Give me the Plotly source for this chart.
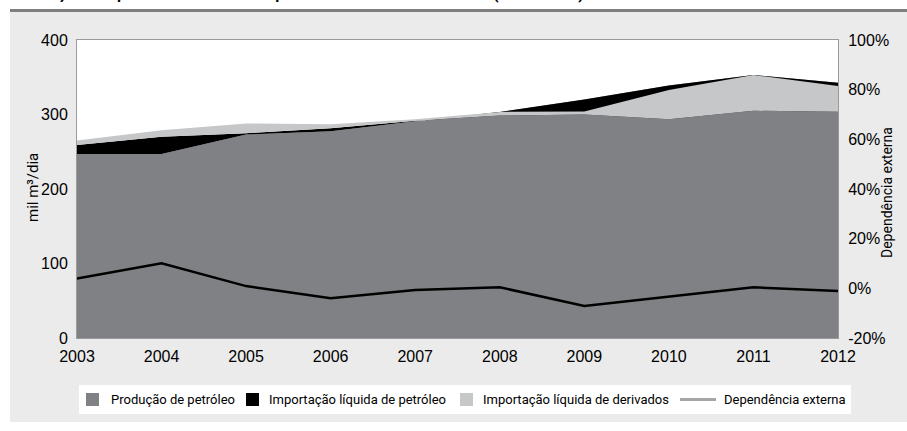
import plotly.graph_objects as go

anos = [2003, 2004, 2005, 2006, 2007, 2008, 2009, 2010, 2011, 2012]
producao = [247, 247, 273, 277.5, 291, 303.5, 320, 339, 353, 342.6]
imp_petroleo = [12, 23, 2, 4, 0.5, -5, -20, -45.5, -48, -38.8]
imp_derivados = [6, 9, 13, 5.5, 2, 5, 4, 39.5, 48, 34.5]
dependencia = [4.0, 10.1, 0.9, -4.0, -0.7, 0.4, -7.1, -3.4, 0.4, -1.1]
ticks_y2 = [-20, 0, 20, 40, 60, 80, 100]

W, H = 907, 431
L, R, T, B = 77, 838, 40, 338

COR_PROD = "#808185"
COR_PET = "#000000"
COR_DER = "#c6c7c9"
COR_DEP_LEG = "#a6a6a6"
FONTE = "Roboto"
FONTE_NUM = "Liberation Sans"


def px_x(px):
    return (px - L) / (R - L)


def px_y(py):
    return (B - py) / (B - T)


fig = go.Figure()

# areas empilhadas (valores negativos mantidos como no original)
fig.add_trace(go.Scatter(x=anos, y=producao, stackgroup="a", mode="none",
                         fillcolor=COR_PROD, name="Produção de petróleo"))
fig.add_trace(go.Scatter(x=anos, y=imp_petroleo, stackgroup="a", mode="none",
                         fillcolor=COR_PET, name="Importação líquida de petróleo"))
fig.add_trace(go.Scatter(x=anos, y=imp_derivados, stackgroup="a", mode="none",
                         fillcolor=COR_DER, name="Importação líquida de derivados"))

fig.add_trace(go.Scatter(x=anos, y=dependencia, yaxis="y2", mode="lines",
                         line=dict(color="#000000", width=2.5), name="Dependência externa"))

shapes = [
    dict(type="rect", xref="paper", yref="paper", layer="below",
         x0=px_x(10), x1=px_x(907), y0=px_y(422), y1=px_y(12),
         fillcolor="#ebebeb", line=dict(width=0)),
    dict(type="line", xref="paper", yref="paper", layer="below",
         x0=px_x(10), x1=px_x(907), y0=px_y(10.5), y1=px_y(10.5),
         line=dict(color="#7f7f7f", width=3)),
    dict(type="rect", xref="paper", yref="paper", layer="below",
         x0=0, x1=1, y0=0, y1=1, fillcolor="white", line=dict(width=0)),
    dict(type="rect", xref="paper", yref="paper", layer="below",
         x0=px_x(79), x1=px_x(851), y0=px_y(414), y1=px_y(385),
         fillcolor="white", line=dict(width=0)),
]

annotations = [
    dict(text="<b>Produção e dependência externa de petróleo e derivados no Brasil (2003-2012)</b>",
         xref="paper", yref="paper", x=px_x(12), y=px_y(5.5), xanchor="left", yanchor="bottom",
         showarrow=False, font=dict(family=FONTE, size=16, color="#000")),
    dict(text="mil m³/dia", textangle=-90, xref="paper", yref="paper",
         x=px_x(33), y=px_y(188), xanchor="center", yanchor="middle",
         showarrow=False, font=dict(family=FONTE, size=15, color="#000")),
    dict(text="Dependência externa", textangle=-90, xref="paper", yref="paper",
         x=px_x(887), y=px_y(193), xanchor="center", yanchor="middle",
         showarrow=False, font=dict(family=FONTE, size=14, color="#000")),
]

# legenda desenhada à mão (uma linha, como no original)
ley = 399.5
itens = [
    ("Produção de petróleo", COR_PROD, "quad", 86, 109),
    ("Importação líquida de petróleo", COR_PET, "quad", 246, 267),
    ("Importação líquida de derivados", COR_DER, "quad", 460, 481),
    ("Dependência externa", COR_DEP_LEG, "linha", 680, 722),
]
for nome, cor, tipo, xs, xt in itens:
    if tipo == "quad":
        shapes.append(dict(type="rect", xref="paper", yref="paper",
                           x0=px_x(xs), x1=px_x(xs + 13), y0=px_y(ley + 6.5), y1=px_y(ley - 6.5),
                           fillcolor=cor, line=dict(width=0)))
    else:
        shapes.append(dict(type="line", xref="paper", yref="paper",
                           x0=px_x(xs), x1=px_x(xs + 36), y0=px_y(ley), y1=px_y(ley),
                           line=dict(color=cor, width=3)))
    annotations.append(dict(text=nome, xref="paper", yref="paper", x=px_x(xt), y=px_y(ley),
                            xanchor="left", yanchor="middle", showarrow=False,
                            font=dict(family=FONTE, size=13, color="#000")))

fig.update_layout(
    width=W, height=H,
    margin=dict(l=L, r=W - R, t=T, b=H - B, pad=0),
    paper_bgcolor="white",
    plot_bgcolor="white",
    showlegend=False,
    font=dict(family=FONTE, size=13, color="#000"),
    xaxis=dict(range=[2003, 2012], tickvals=anos, showgrid=False, zeroline=False,
               showline=True, linecolor="#9a9a9a", linewidth=1, mirror=True,
               ticks="outside", ticklen=4, tickcolor="rgba(0,0,0,0)",
               tickfont=dict(family=FONTE_NUM, size=16)),
    yaxis=dict(range=[0, 400], tickvals=[0, 100, 200, 300, 400], showgrid=False,
               zeroline=False, showline=True, linecolor="#9a9a9a", linewidth=1,
               ticks="outside", ticklen=5, tickcolor="rgba(0,0,0,0)",
               tickfont=dict(family=FONTE_NUM, size=16)),
    yaxis2=dict(range=[-20, 100], tickvals=ticks_y2,
                ticktext=[f"{v}%" for v in ticks_y2],
                overlaying="y", side="right", showgrid=False, zeroline=False,
                showline=True, linecolor="#9a9a9a", linewidth=1,
                ticks="outside", ticklen=6, tickcolor="rgba(0,0,0,0)",
                tickfont=dict(family=FONTE_NUM, size=16)),
    shapes=shapes,
    annotations=annotations,
)

fig.write_html("out.html", config={"displayModeBar": False},
               post_script="document.body.style.margin='0';")
